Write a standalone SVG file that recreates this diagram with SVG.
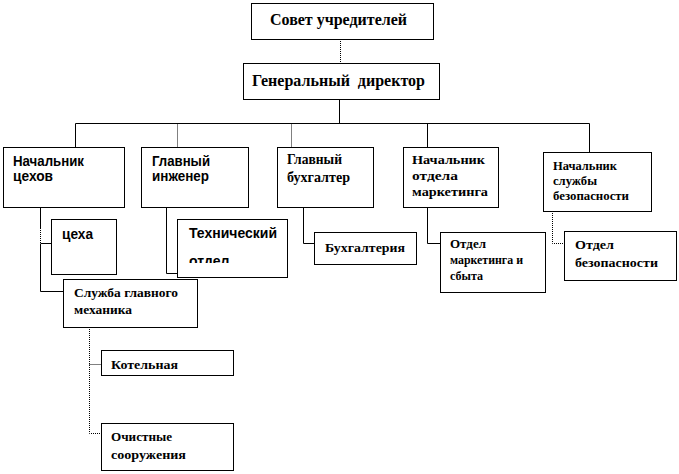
<svg xmlns="http://www.w3.org/2000/svg" width="679" height="474" viewBox="0 0 679 474">
<style>
.box{fill:#fff;stroke:#000;stroke-width:1}
.ln{fill:none;stroke:#000;stroke-width:1}
.dot{fill:none;stroke:#000;stroke-width:1;stroke-dasharray:1,1}
.s{font-family:"Liberation Serif","Times New Roman",serif;font-weight:700;fill:#000}
.a{font-family:"Liberation Sans",Arial,sans-serif;font-weight:700;fill:#000}
</style>
<defs>
<clipPath id="clipTech"><rect x="177" y="219" width="111" height="44"/></clipPath>
</defs>
<g id="connectors">
<path class="dot" d="M340.5 39V63"/>
<path class="ln" d="M339.5 99V123.5M75.5 147V123.5H589.5V152"/>
<path class="dot" d="M177.5 123.5V147M291.5 123.5V147"/>
<path class="ln" d="M427.5 123.5V147"/>
<path class="ln" d="M40.5 207V228M40.5 245V291.5H63M40.5 243.5H51"/>
<path class="dot" d="M40.5 228V245"/>
<path class="ln" d="M166.5 207V273.5H177"/>
<path class="ln" d="M303.5 207V243.5H314"/>
<path class="ln" d="M427.5 207V243.5H440"/>
<path class="dot" d="M552.5 211V243.5H564"/>
<path class="dot" d="M89.5 327V433.5H101M89.5 364.5H101"/>
</g>
<g id="sovet"><rect class="box" x="251.5" y="3.5" width="182" height="36"/><text class="s" x="270" y="25" font-size="16" textLength="137" lengthAdjust="spacingAndGlyphs">Совет учредителей</text></g>
<g id="gendir"><rect class="box" x="243.5" y="63.5" width="196" height="36"/><text class="s" x="252" y="86" font-size="16" xml:space="preserve" textLength="173" lengthAdjust="spacingAndGlyphs">Генеральный  директор</text></g>
<g id="nach-cehov"><rect class="box" x="3.5" y="147.5" width="121" height="60"/><text class="a" x="13" y="166" font-size="14" textLength="71" lengthAdjust="spacingAndGlyphs">Начальник</text><text class="a" x="13" y="181" font-size="14" textLength="40" lengthAdjust="spacingAndGlyphs">цехов</text></g>
<g id="gl-inzh"><rect class="box" x="141.5" y="147.5" width="107" height="60"/><text class="a" x="152" y="166" font-size="14" textLength="58" lengthAdjust="spacingAndGlyphs">Главный</text><text class="a" x="152" y="181" font-size="14" textLength="57" lengthAdjust="spacingAndGlyphs">инженер</text></g>
<g id="gl-buh"><rect class="box" x="277.5" y="147.5" width="96" height="60"/><text class="s" x="287" y="164" font-size="14" textLength="55" lengthAdjust="spacingAndGlyphs">Главный</text><text class="s" x="287" y="182" font-size="14" textLength="63" lengthAdjust="spacingAndGlyphs">бухгалтер</text></g>
<g id="nach-mark"><rect class="box" x="403.5" y="147.5" width="95" height="60"/><text class="s" x="412" y="164" font-size="13" textLength="73" lengthAdjust="spacingAndGlyphs">Начальник</text><text class="s" x="412" y="180" font-size="13" textLength="46" lengthAdjust="spacingAndGlyphs">отдела</text><text class="s" x="412" y="196" font-size="13" textLength="76" lengthAdjust="spacingAndGlyphs">маркетинга</text></g>
<g id="nach-bez"><rect class="box" x="543.5" y="152.5" width="108" height="59"/><text class="s" x="553" y="170" font-size="11.5" textLength="64" lengthAdjust="spacingAndGlyphs">Начальник</text><text class="s" x="553" y="185" font-size="11.5" textLength="44" lengthAdjust="spacingAndGlyphs">службы</text><text class="s" x="553" y="200" font-size="11.5" textLength="76" lengthAdjust="spacingAndGlyphs">безопасности</text></g>
<g id="ceha"><rect class="box" x="51.5" y="219.5" width="65" height="55"/><text class="a" x="62" y="239" font-size="14" textLength="31" lengthAdjust="spacingAndGlyphs">цеха</text></g>
<g id="tech-otdel"><rect class="box" x="177.5" y="219.5" width="110" height="58"/><text class="a" x="189" y="238" font-size="14" textLength="88" lengthAdjust="spacingAndGlyphs">Технический</text><text class="a" x="189" y="266" font-size="14" clip-path="url(#clipTech)">отдел</text></g>
<g id="buhgalteria"><rect class="box" x="314.5" y="232.5" width="102" height="32"/><text class="s" x="325" y="252" font-size="13" textLength="80" lengthAdjust="spacingAndGlyphs">Бухгалтерия</text></g>
<g id="otdel-mark"><rect class="box" x="440.5" y="232.5" width="105" height="60"/><text class="s" x="450" y="248" font-size="12" textLength="36" lengthAdjust="spacingAndGlyphs">Отдел</text><text class="s" x="450" y="264" font-size="12" textLength="73" lengthAdjust="spacingAndGlyphs">маркетинга и</text><text class="s" x="450" y="280" font-size="12" textLength="33" lengthAdjust="spacingAndGlyphs">сбыта</text></g>
<g id="otdel-bez"><rect class="box" x="564.5" y="231.5" width="112" height="49"/><text class="s" x="575" y="249" font-size="13.5" textLength="39" lengthAdjust="spacingAndGlyphs">Отдел</text><text class="s" x="575" y="267" font-size="13.5" textLength="83" lengthAdjust="spacingAndGlyphs">безопасности</text></g>
<g id="sluzhba"><rect class="box" x="63.5" y="279.5" width="134" height="48"/><text class="s" x="74" y="297" font-size="12.5" textLength="104" lengthAdjust="spacingAndGlyphs">Служба главного</text><text class="s" x="74" y="314" font-size="12.5" textLength="58" lengthAdjust="spacingAndGlyphs">механика</text></g>
<g id="kotelnaya"><rect class="box" x="101.5" y="350.5" width="132" height="25"/><text class="s" x="111" y="369" font-size="13" textLength="67" lengthAdjust="spacingAndGlyphs">Котельная</text></g>
<g id="ochistnye"><rect class="box" x="101.5" y="423.5" width="132" height="47"/><text class="s" x="111" y="441" font-size="13" textLength="61" lengthAdjust="spacingAndGlyphs">Очистные</text><text class="s" x="111" y="459" font-size="13" textLength="75" lengthAdjust="spacingAndGlyphs">сооружения</text></g>
</svg>
